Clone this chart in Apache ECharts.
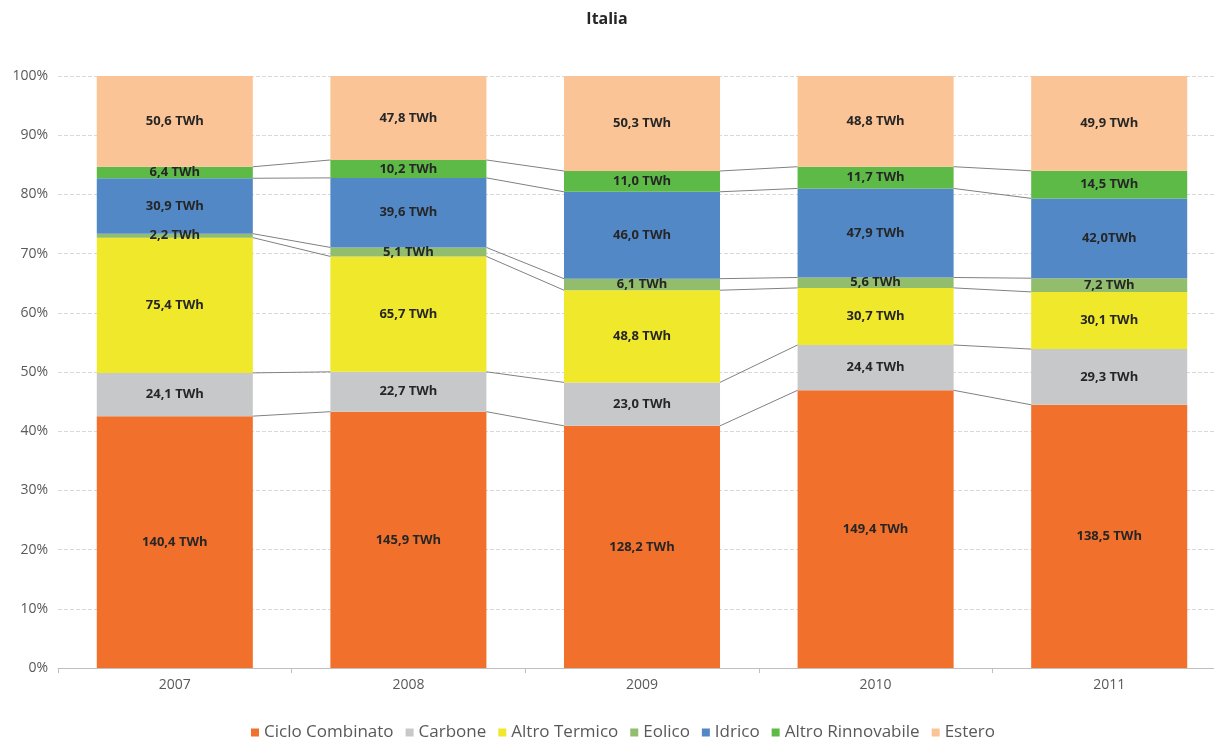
<!DOCTYPE html>
<html>
<head>
<meta charset="utf-8">
<title>Italia</title>
<script src="https://cdn.jsdelivr.net/npm/echarts@6/dist/echarts.min.js"></script>
<style>
	html, body { margin: 0; padding: 0; background: #fff; }
	#chart { width: 1214px; height: 740px; }
</style>
</head>
<body>
<div id="chart"></div>
<script>
// values in TWh
const years = ["2007", "2008", "2009", "2010", "2011"];
const cicloCombinato = [140.4, 145.9, 128.2, 149.4, 138.5];
const carbone = [24.1, 22.7, 23.0, 24.4, 29.3];
const altroTermico = [75.4, 65.7, 48.8, 30.7, 30.1];
const eolico = [2.2, 5.1, 6.1, 5.6, 7.2];
const idrico = [30.9, 39.6, 46.0, 47.9, 42.0];
const altroRinnovabile = [6.4, 10.2, 11.0, 11.7, 14.5];
const estero = [50.6, 47.8, 50.3, 48.8, 49.9];

const names = ["Ciclo Combinato", "Carbone", "Altro Termico", "Eolico", "Idrico", "Altro Rinnovabile", "Estero"];
const colors = ["#F1702B", "#C7C8CA", "#F0E82A", "#91BD6C", "#5388C7", "#5DBA47", "#FBC496"];
const twh = [cicloCombinato, carbone, altroTermico, eolico, idrico, altroRinnovabile, estero];

const font = "'Open Sans', 'DejaVu Sans', sans-serif";

var totals = years.map((y, i) => twh.reduce((s, arr) => s + arr[i], 0));
var pct = twh.map((arr) => arr.map((v, i) => (v / totals[i]) * 100));

// cumulative tops of each segment, used for the connector lines
var cum = [];
var run = years.map(() => 0);
for (let k = 0; k < pct.length - 1; k++) {
	run = run.map((r, i) => r + pct[k][i]);
	cum.push(run.slice());
}

const gapRatio = 0.332;

function fmt(k, i) {
	var s = twh[k][i].toFixed(1).replace(".", ",");
	// the source prints this one without a space
	if (k === 4 && i === 4) return s + "TWh";
	return s + " TWh";
}

var series = names.map((name, k) => ({
	name: name,
	type: "bar",
	stack: "tot",
	barCategoryGap: "33.2%",
	itemStyle: { color: colors[k] },
	label: {
		show: true,
		position: "inside",
		color: "#262626",
		fontFamily: font,
		fontWeight: "bold",
		fontSize: 13,
		formatter: (p) => fmt(k, p.dataIndex),
	},
	emphasis: { disabled: true },
	data: pct[k],
}));

series.push({
	name: "connectors",
	type: "custom",
	silent: true,
	z: 3,
	encode: { x: 0, y: 1 },
	data: years.slice(0, years.length - 1).map((y, i) => [i, 0]),
	renderItem: function (params, api) {
		var i = api.value(0);
		var half = (api.size([1, 0])[0] * (1 - gapRatio)) / 2;
		var children = cum.map((c) => {
			var a = api.coord([i, c[i]]);
			var b = api.coord([i + 1, c[i + 1]]);
			return {
				type: "line",
				shape: { x1: a[0] + half, y1: a[1], x2: b[0] - half, y2: b[1] },
				style: { stroke: "#808080", lineWidth: 1 },
			};
		});
		return { type: "group", children: children };
	},
});

var chart = echarts.init(document.getElementById("chart"));
chart.setOption({
	animation: false,
	title: {
		text: "Italia",
		left: "center",
		top: 6,
		textStyle: { fontFamily: font, fontWeight: "bold", fontSize: 16, color: "#262626" },
	},
	legend: {
		data: names,
		top: 719,
		left: 246,
		icon: "rect",
		itemWidth: 8,
		itemHeight: 8,
		itemGap: 12,
		textStyle: { fontFamily: font, fontSize: 17, color: "#595959" },
	},
	grid: { left: 58, right: -12, top: 76, bottom: 72, outerBoundsMode: "none" },
	xAxis: {
		type: "category",
		data: years,
		axisLine: { lineStyle: { color: "#BFBFBF" } },
		axisTick: { show: true, length: 5, lineStyle: { color: "#BFBFBF" } },
		axisLabel: { fontFamily: font, fontSize: 14, color: "#595959", margin: 10 },
	},
	yAxis: {
		type: "value",
		min: 0,
		max: 100,
		interval: 10,
		axisLine: { show: false },
		axisTick: { show: false },
		axisLabel: { formatter: "{value}%", fontFamily: font, fontSize: 14, color: "#595959", margin: 10 },
		splitLine: { lineStyle: { color: "#D9D9D9", type: [4, 2] } },
	},
	series: series,
});
</script>
</body>
</html>
